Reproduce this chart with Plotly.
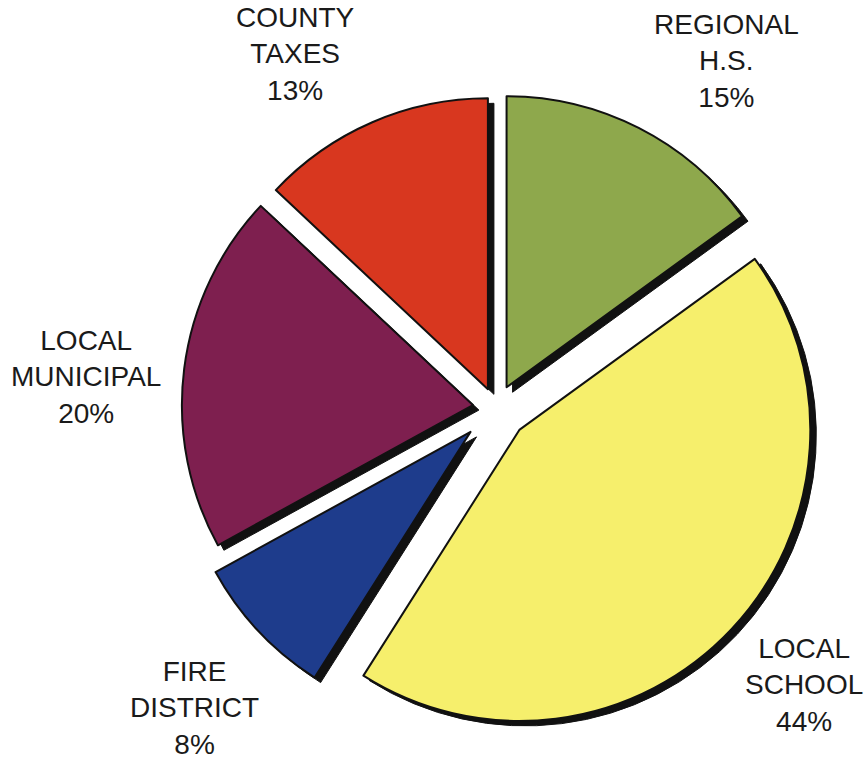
import plotly.graph_objects as go

labels = ["REGIONAL<br>H.S.", "LOCAL<br>SCHOOL", "FIRE<br>DISTRICT", "LOCAL<br>MUNICIPAL", "COUNTY<br>TAXES"]
values = [15, 44, 8, 20, 13]
colors = ["#8EA84C", "#F6EF6C", "#1E3C8C", "#7E1F4F", "#D8371F"]
pulls = [0.08, 0.11, 0.12, 0.08, 0.07]

W, H = 867, 760
cx, cy = 496, 408          # pie centre (page px)
half = 291 * (1 + max(pulls))  # half domain size so radius ~291 px
sdx, sdy = 6, 5            # shadow offset px

def dom(dx=0, dy=0):
    x0 = (cx + dx - half) / W
    x1 = (cx + dx + half) / W
    y0 = (H - (cy + dy) - half) / H
    y1 = (H - (cy + dy) + half) / H
    return dict(x=[x0, x1], y=[y0, y1])

fig = go.Figure()
# shadow
fig.add_trace(go.Pie(
    values=values, labels=labels, sort=False, direction="clockwise", rotation=0,
    pull=pulls, textinfo="none", hoverinfo="skip", showlegend=False,
    marker=dict(colors=["#111111"] * len(values), line=dict(color="#111111", width=1)),
    domain=dom(sdx, sdy),
))
# main slices
fig.add_trace(go.Pie(
    values=values, labels=labels, sort=False, direction="clockwise", rotation=0,
    pull=pulls, textinfo="none", showlegend=False,
    marker=dict(colors=colors, line=dict(color="#111111", width=2)),
    domain=dom(),
))

# label positions (page px, centre of text block)
label_pos = [(726, 61), (804, 685), (194, 708), (86, 377), (295, 54)]
for lab, v, (lx, ly) in zip(labels, values, label_pos):
    fig.add_annotation(
        x=lx / W, y=1 - ly / H, xref="paper", yref="paper",
        text=f"{lab}<br>{v}%", showarrow=False,
        xanchor="center", yanchor="middle", align="center",
        font=dict(family="Liberation Sans, Arial, sans-serif", size=28, color="#1a1a1a"),
    )

fig.update_layout(
    width=W, height=H, margin=dict(l=0, r=0, t=0, b=0),
    paper_bgcolor="white", plot_bgcolor="white", showlegend=False,
)
fig.write_html(
    "out.html",
    config={"displayModeBar": False},
    post_script="document.body.style.margin='0';document.body.style.overflow='hidden';",
)
